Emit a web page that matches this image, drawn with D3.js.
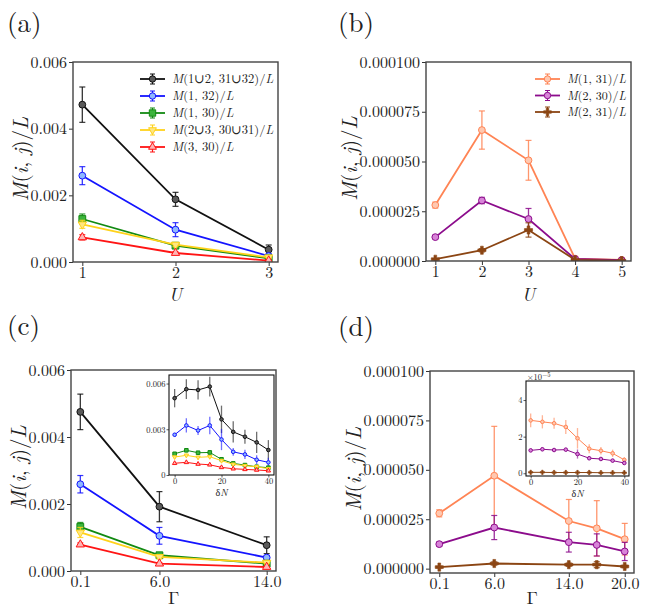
<!DOCTYPE html>
<html>
<head>
<meta charset="utf-8">
<script src="https://cdn.jsdelivr.net/npm/d3@7"></script>
<style>
  body { margin: 0; background: #fff; }
  text { font-family: "Latin Modern Roman", "CMU Serif", "Liberation Serif", "DejaVu Serif", "Tinos", "Noto Serif", "Times New Roman", "FreeSerif", serif; fill: #222; }
</style>
</head>
<body>
<svg id="fig" width="648" height="610"></svg>
<script>
// ---- data ----
// panel (a): vs U
var uA = [1, 2, 3];
var aUnion = [0.00472, 0.00188, 0.00037], aUnionErr = [0.00053, 0.00021, 0.00014];
var a1_32 = [0.00259, 0.00097, 0.00018], a1_32Err = [0.00027, 0.00021, 0.00005];
var a1_30 = [0.00129, 0.00049, 0.00011], a1_30Err = [0.00015, 0.00006, 0.00003];
var aUnion23 = [0.00113, 0.00052, 0.00014], aUnion23Err = [0.00012, 0.00006, 0.00003];
var a3_30 = [0.00074, 0.00027, 0.00004], a3_30Err = [0.00008, 0.00004, 0.00001];

// panel (b): vs U
var uB = [1, 2, 3, 4, 5];
var b1_31 = [28.1e-6, 65.8e-6, 50.6e-6, 1.2e-6, 0.5e-6], b1_31Err = [1.5e-6, 9.6e-6, 10.0e-6, 0.3e-6, 0.2e-6];
var b2_30 = [12.0e-6, 30.4e-6, 21.1e-6, 1.0e-6, 0.4e-6], b2_30Err = [0.8e-6, 1.6e-6, 5.3e-6, 0.3e-6, 0.1e-6];
var b2_31 = [0.9e-6, 5.4e-6, 15.6e-6, 0.6e-6, 0.2e-6], b2_31Err = [0.3e-6, 0.8e-6, 3.6e-6, 0.2e-6, 0.1e-6];

// panel (c): vs Gamma
var gC = [0.1, 6.0, 14.0];
var cUnion = [0.00475, 0.00192, 0.00077], cUnionErr = [0.00053, 0.00045, 0.00025];
var c1_32 = [0.00259, 0.00105, 0.00040], c1_32Err = [0.00026, 0.00025, 0.00005];
var c1_30 = [0.00132, 0.00047, 0.00022], c1_30Err = [0.00013, 0.00005, 0.00003];
var cUnion23 = [0.00115, 0.00042, 0.00025], cUnion23Err = [0.00015, 0.00005, 0.00003];
var c3_30 = [0.00079, 0.00022, 0.00012], c3_30Err = [0.00005, 0.00003, 0.00002];

// inset (c): vs deltaN
var dN = [0, 5, 10, 15, 20, 25, 30, 35, 40];
var icUnion = [5.04e-3, 5.63e-3, 5.58e-3, 5.80e-3, 3.65e-3, 2.83e-3, 2.51e-3, 2.14e-3, 1.64e-3];
var icUnionErr = [0.60e-3, 0.65e-3, 0.63e-3, 0.65e-3, 0.90e-3, 0.70e-3, 0.46e-3, 0.70e-3, 0.65e-3];
var ic1_32 = [2.64e-3, 3.25e-3, 2.92e-3, 3.25e-3, 2.33e-3, 1.52e-3, 1.35e-3, 1.00e-3, 0.83e-3];
var ic1_32Err = [0.12e-3, 0.47e-3, 0.30e-3, 0.57e-3, 0.70e-3, 0.25e-3, 0.30e-3, 0.30e-3, 0.30e-3];
var ic1_30 = [1.39e-3, 1.62e-3, 1.46e-3, 1.48e-3, 1.03e-3, 0.76e-3, 0.65e-3, 0.54e-3, 0.48e-3];
var ic1_30Err = [0.10e-3, 0.12e-3, 0.10e-3, 0.15e-3, 0.15e-3, 0.10e-3, 0.08e-3, 0.08e-3, 0.07e-3];
var icUnion23 = [1.18e-3, 1.29e-3, 1.16e-3, 1.20e-3, 0.94e-3, 0.70e-3, 0.61e-3, 0.54e-3, 0.41e-3];
var icUnion23Err = [0.10e-3, 0.12e-3, 0.10e-3, 0.12e-3, 0.12e-3, 0.08e-3, 0.08e-3, 0.07e-3, 0.06e-3];
var ic3_30 = [0.77e-3, 0.83e-3, 0.72e-3, 0.67e-3, 0.50e-3, 0.41e-3, 0.37e-3, 0.33e-3, 0.28e-3];
var ic3_30Err = [0.06e-3, 0.06e-3, 0.05e-3, 0.05e-3, 0.05e-3, 0.04e-3, 0.04e-3, 0.04e-3, 0.03e-3];

// panel (d): vs Gamma
var gD = [0.1, 6.0, 14.0, 17.0, 20.0];
var d1_31 = [28.0e-6, 47.0e-6, 24.1e-6, 20.4e-6, 14.9e-6], d1_31Err = [1.8e-6, 25.0e-6, 10.9e-6, 14.0e-6, 8.0e-6];
var d2_30 = [12.4e-6, 20.8e-6, 13.4e-6, 12.0e-6, 8.7e-6], d2_30Err = [1.0e-6, 6.1e-6, 5.0e-6, 5.6e-6, 4.6e-6];
var d2_31 = [0.8e-6, 2.6e-6, 2.0e-6, 2.0e-6, 1.1e-6], d2_31Err = [0.4e-6, 0.8e-6, 0.8e-6, 1.5e-6, 0.6e-6];

// inset (d): vs deltaN, in units of 1e-5
var id1_31 = [2.89, 2.81, 2.73, 2.53, 1.91, 1.34, 1.23, 1.09, 0.73];
var id1_31Err = [0.38, 0.36, 0.30, 0.38, 0.56, 0.25, 0.20, 0.20, 0.15];
var id2_30 = [1.25, 1.31, 1.27, 1.29, 1.05, 0.82, 0.78, 0.69, 0.56];
var id2_30Err = [0.08, 0.10, 0.10, 0.08, 0.25, 0.10, 0.08, 0.08, 0.07];
var id2_31 = [0.05, 0.05, 0.04, 0.04, 0.04, 0.04, 0.03, 0.03, 0.03];
var id2_31Err = [0.03, 0.03, 0.03, 0.03, 0.03, 0.03, 0.03, 0.03, 0.03];

// ---- styles ----
var st = {
  union:   {color: "#111111", fill: "#5a5a5a", marker: "circle", label: "M(1∪2, 31∪32)/L"},
  m1_32:   {color: "#1414ff", fill: "#8fb8ff", marker: "circle", label: "M(1, 32)/L"},
  m1_30:   {color: "#128a12", fill: "#3cb43c", marker: "square", label: "M(1, 30)/L"},
  union23: {color: "#ffd21a", fill: "#ffe680", marker: "tridown", label: "M(2∪3, 30∪31)/L"},
  m3_30:   {color: "#ff1414", fill: "#ffb4b4", marker: "triup", label: "M(3, 30)/L"},
  m1_31:   {color: "#ff8454", fill: "#ffc8b0", marker: "circle", label: "M(1, 31)/L"},
  m2_30:   {color: "#8c0c8c", fill: "#d884d8", marker: "circle", label: "M(2, 30)/L"},
  m2_31:   {color: "#8b4513", fill: "#8b4513", marker: "plus", label: "M(2, 31)/L"}
};

var FONT = '"Latin Modern Roman", "CMU Serif", "Liberation Serif", "DejaVu Serif", "Tinos", "Noto Serif", "Times New Roman", "FreeSerif", serif';
var svg = d3.select("#fig");

function symbolPath(type, r) {
  var s = d3.symbol();
  if (type == "circle") return s.type(d3.symbolCircle).size(Math.PI * r * r)();
  if (type == "square") return s.type(d3.symbolSquare).size(4 * r * r)();
  if (type == "triup" || type == "tridown") return s.type(d3.symbolTriangle).size(2.6 * r * r)();
  if (type == "plus") return s.type(d3.symbolCross).size(3.2 * r * r)();
}

// letters in italic, the rest upright, like TeX math
function mathText(sel, str) {
  str.split("").forEach(function(ch) {
    sel.append("tspan")
      .style("font-style", /[A-Za-z]/.test(ch) ? "italic" : "normal")
      .text(ch);
  });
  return sel;
}

function drawMarker(g, x, y, s, r) {
  g.append("path")
    .attr("d", symbolPath(s.marker, r))
    .attr("transform", "translate(" + [x, y] + ")" + (s.marker == "tridown" ? " rotate(180)" : ""))
    .style("fill", s.fill)
    .style("stroke", s.color)
    .style("stroke-width", s.marker == "plus" ? 0.6 : 1);
}

function panel(cfg) {
  var g = svg.append("g");
  var x = d3.scaleLinear().domain(cfg.xDomain).range([cfg.box[0], cfg.box[1]]);
  var y = d3.scaleLinear().domain(cfg.yDomain).range([cfg.box[3], cfg.box[2]]);
  var inset = !!cfg.inset;

  g.append("rect")
    .attr("x", cfg.box[0]).attr("y", cfg.box[2])
    .attr("width", cfg.box[1] - cfg.box[0]).attr("height", cfg.box[3] - cfg.box[2])
    .style("fill", "#fff");

  var clipId = "clip" + Math.round(cfg.box[0]) + "_" + Math.round(cfg.box[2]);
  g.append("clipPath").attr("id", clipId).append("rect")
    .attr("x", cfg.box[0]).attr("y", cfg.box[2])
    .attr("width", cfg.box[1] - cfg.box[0]).attr("height", cfg.box[3] - cfg.box[2]);
  var plot = g.append("g").attr("clip-path", "url(#" + clipId + ")");

  var line = d3.line().x(function(d) { return x(d[0]); }).y(function(d) { return y(d[1]); });
  var lw = inset ? 1 : 1.8, r = inset ? 1.8 : 3.4, cap = inset ? 0 : 3;

  cfg.series.forEach(function(sr) {
    var s = sr.style;
    var pts = sr.x.map(function(v, i) { return [v, sr.y[i], sr.err[i]]; });
    var sg = plot.append("g");
    sg.append("path").attr("d", line(pts))
      .style("fill", "none").style("stroke", s.color).style("stroke-width", lw);
    pts.forEach(function(p) {
      var px = x(p[0]), y0 = y(p[1] - p[2]), y1 = y(p[1] + p[2]);
      sg.append("line").attr("x1", px).attr("x2", px).attr("y1", y0).attr("y2", y1)
        .style("stroke", s.color).style("stroke-width", 1.3)
        .style("opacity", inset ? 0.6 : 0.85);
      if (cap) {
        [y0, y1].forEach(function(yy) {
          sg.append("line").attr("x1", px - cap).attr("x2", px + cap).attr("y1", yy).attr("y2", yy)
            .style("stroke", s.color).style("stroke-width", 1.2).style("opacity", 0.85);
        });
      }
    });
    pts.forEach(function(p) { drawMarker(sg, x(p[0]), y(p[1]), s, r); });
  });

  var fs = inset ? 8.5 : 16;
  var ax = g.append("g").attr("transform", "translate(0," + cfg.box[3] + ")")
    .call(d3.axisBottom(x).tickValues(cfg.xTicks).tickFormat(cfg.xFmt)
      .tickSize(inset ? 2.5 : 4).tickPadding(0.5));
  var ay = g.append("g").attr("transform", "translate(" + cfg.box[0] + ",0)")
    .call(d3.axisLeft(y).tickValues(cfg.yTicks).tickFormat(cfg.yFmt)
      .tickSize(inset ? 2.5 : 4).tickPadding(inset ? 1 : 2));
  [ax, ay].forEach(function(a) {
    a.attr("font-family", null).attr("font-size", null);
    a.select(".domain").remove();
    a.selectAll(".tick line").style("stroke", "#333").style("stroke-width", inset ? 0.8 : 1);
    a.selectAll(".tick text").style("font-size", fs + "px")
      .style("font-family", FONT).style("fill", "#222");
  });

  g.append("rect")
    .attr("x", cfg.box[0]).attr("y", cfg.box[2])
    .attr("width", cfg.box[1] - cfg.box[0]).attr("height", cfg.box[3] - cfg.box[2])
    .style("fill", "none").style("stroke", inset ? "#111" : "#444").style("stroke-width", inset ? 1.1 : 1.4);

  // axis labels
  var cx = (cfg.box[0] + cfg.box[1]) / 2, cy = (cfg.box[2] + cfg.box[3]) / 2;
  mathText(g.append("text").attr("x", cx).attr("y", cfg.box[3] + cfg.xLabelDy)
    .attr("text-anchor", "middle").style("font-size", (inset ? 10 : 18) + "px"), cfg.xLabel);
  if (cfg.yLabel) {
    mathText(g.append("text")
      .attr("transform", "translate(" + [cfg.yLabelX, cy - 3] + ") rotate(-90)")
      .attr("text-anchor", "middle").attr("dy", "0.35em").style("font-size", "21px"), cfg.yLabel);
  }
  if (cfg.tag) {
    g.append("text").attr("x", cfg.tag[0]).attr("y", cfg.tag[1])
      .style("font-size", "27px").text(cfg.tag[2]);
  }
  if (cfg.offset) {
    var ot = g.append("text").attr("x", cfg.box[0] + 1).attr("y", cfg.box[2] - 1).style("font-size", "8.5px");
    ot.append("tspan").text("×10");
    ot.append("tspan").attr("dy", -3).style("font-size", "6.5px").text("−5");
  }
  if (cfg.legend) {
    var lg = cfg.legend;
    cfg.series.forEach(function(sr, i) {
      var s = sr.style, yy = lg.y + i * lg.dy;
      var lgg = g.append("g");
      lgg.append("line").attr("x1", lg.x).attr("x2", lg.x + 25).attr("y1", yy).attr("y2", yy)
        .style("stroke", s.color).style("stroke-width", 1.8);
      var mx = lg.x + 12.5;
      lgg.append("line").attr("x1", mx).attr("x2", mx).attr("y1", yy - 5).attr("y2", yy + 5)
        .style("stroke", s.color).style("stroke-width", 1.2);
      [yy - 5, yy + 5].forEach(function(cy2) {
        lgg.append("line").attr("x1", mx - 2.5).attr("x2", mx + 2.5).attr("y1", cy2).attr("y2", cy2)
          .style("stroke", s.color).style("stroke-width", 1);
      });
      drawMarker(lgg, mx, yy, s, 3.2);
      mathText(lgg.append("text").attr("x", lg.x + 32).attr("y", yy).attr("dy", "0.35em")
        .style("font-size", lg.fs + "px"), s.label);
    });
  }
}

var fmt3 = d3.format(".3f"), fmt6 = d3.format(".6f"), fmtInt = d3.format("d"), fmt1 = d3.format(".1f");
function fmtInsetC(v) { return v == 0 ? "0" : d3.format(".3f")(v); }

panel({
  box: [73, 278, 62, 262], xDomain: [0.9, 3.1], yDomain: [0, 0.006],
  xTicks: uA, xFmt: fmtInt, yTicks: [0, 0.002, 0.004, 0.006], yFmt: fmt3,
  xLabel: "U", xLabelDy: 39, yLabel: "M(i, j)/L", yLabelX: 21, tag: [7, 32, "(a)"],
  legend: {x: 140, y: 79, dy: 17, fs: 12.5},
  series: [
    {x: uA, y: aUnion, err: aUnionErr, style: st.union},
    {x: uA, y: a1_32, err: a1_32Err, style: st.m1_32},
    {x: uA, y: a1_30, err: a1_30Err, style: st.m1_30},
    {x: uA, y: aUnion23, err: aUnion23Err, style: st.union23},
    {x: uA, y: a3_30, err: a3_30Err, style: st.m3_30}
  ]
});

panel({
  box: [426, 631, 62, 261], xDomain: [0.8, 5.2], yDomain: [0, 0.0001],
  xTicks: uB, xFmt: fmtInt, yTicks: [0, 0.000025, 0.00005, 0.000075, 0.0001], yFmt: fmt6,
  xLabel: "U", xLabelDy: 40, yLabel: "M(i, j)/L", yLabelX: 350, tag: [338, 32, "(b)"],
  legend: {x: 535, y: 79, dy: 16.5, fs: 12},
  series: [
    {x: uB, y: b1_31, err: b1_31Err, style: st.m1_31},
    {x: uB, y: b2_30, err: b2_30Err, style: st.m2_30},
    {x: uB, y: b2_31, err: b2_31Err, style: st.m2_31}
  ]
});

panel({
  box: [71, 276, 370, 571], xDomain: [-0.595, 14.695], yDomain: [0, 0.006],
  xTicks: gC, xFmt: fmt1, yTicks: [0, 0.002, 0.004, 0.006], yFmt: fmt3,
  xLabel: "Γ", xLabelDy: 33, yLabel: "M(i, j)/L", yLabelX: 19, tag: [7, 335, "(c)"],
  series: [
    {x: gC, y: cUnion, err: cUnionErr, style: st.union},
    {x: gC, y: c1_32, err: c1_32Err, style: st.m1_32},
    {x: gC, y: c1_30, err: c1_30Err, style: st.m1_30},
    {x: gC, y: cUnion23, err: cUnion23Err, style: st.union23},
    {x: gC, y: c3_30, err: c3_30Err, style: st.m3_30}
  ]
});

panel({
  inset: true,
  box: [169, 274, 375, 475], xDomain: [-2.4, 42.4], yDomain: [0, 0.00656],
  xTicks: [0, 20, 40], xFmt: fmtInt, yTicks: [0, 0.003, 0.006], yFmt: fmtInsetC,
  xLabel: "δN", xLabelDy: 21,
  series: [
    {x: dN, y: icUnion, err: icUnionErr, style: st.union},
    {x: dN, y: ic1_32, err: ic1_32Err, style: st.m1_32},
    {x: dN, y: ic1_30, err: ic1_30Err, style: st.m1_30},
    {x: dN, y: icUnion23, err: icUnion23Err, style: st.union23},
    {x: dN, y: ic3_30, err: ic3_30Err, style: st.m3_30}
  ]
});

panel({
  box: [430, 634, 371, 573], xDomain: [-0.895, 20.995], yDomain: [-0.0000022, 0.0001],
  xTicks: [0.1, 6.0, 14.0, 20.0], xFmt: fmt1, yTicks: [0, 0.000025, 0.00005, 0.000075, 0.0001], yFmt: fmt6,
  xLabel: "Γ", xLabelDy: 31, yLabel: "M(i, j)/L", yLabelX: 354, tag: [338, 336, "(d)"],
  series: [
    {x: gD, y: d1_31, err: d1_31Err, style: st.m1_31},
    {x: gD, y: d2_30, err: d2_30Err, style: st.m2_30},
    {x: gD, y: d2_31, err: d2_31Err, style: st.m2_31}
  ]
});

panel({
  inset: true, offset: true,
  box: [526, 629, 381, 476], xDomain: [-2, 42], yDomain: [-0.15, 5.04],
  xTicks: [0, 20, 40], xFmt: fmtInt, yTicks: [0, 2, 4], yFmt: fmtInt,
  xLabel: "δN", xLabelDy: 21,
  series: [
    {x: dN, y: id1_31, err: id1_31Err, style: st.m1_31},
    {x: dN, y: id2_30, err: id2_30Err, style: st.m2_30},
    {x: dN, y: id2_31, err: id2_31Err, style: st.m2_31}
  ]
});
</script>
</body>
</html>
